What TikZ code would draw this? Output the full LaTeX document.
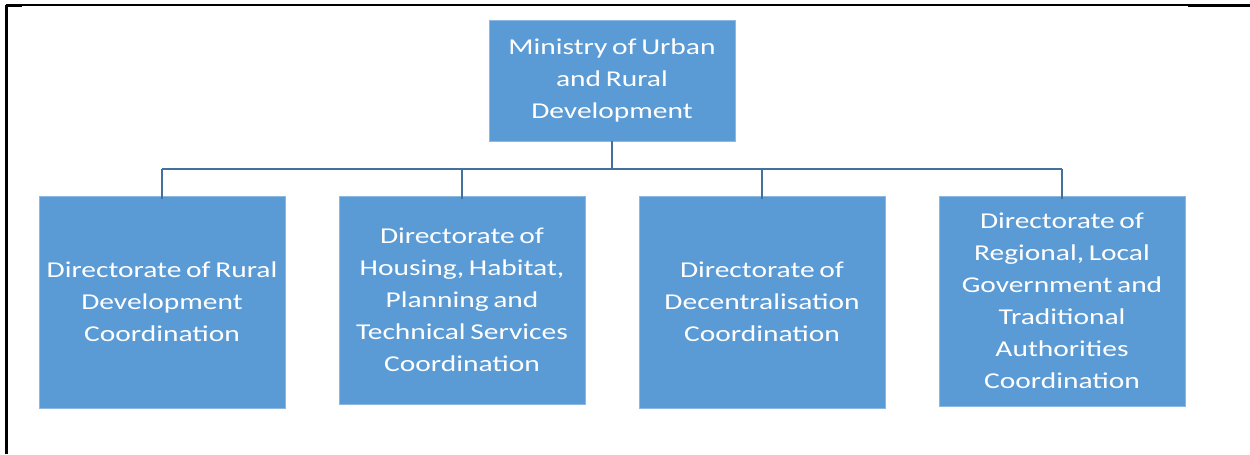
\documentclass[tikz,border=0pt]{standalone}
\usepackage{fontspec}
\setmainfont{Carlito}[FakeStretch=1.3,WordSpace=0.7]
\definecolor{boxblue}{HTML}{5B9BD5}
\definecolor{lineblue}{HTML}{41719C}
\begin{document}
\begin{tikzpicture}[x=0.75pt,y=-0.75pt,
  orgbox/.style={draw=boxblue!70!white,line width=0.5pt,fill=boxblue,text=white,align=center,
    minimum width=246*0.75pt,inner sep=2pt,font=\fontsize{17}{24}\selectfont},
  conn/.style={draw=lineblue,line width=1.3pt}]
\useasboundingbox (0,0) rectangle (1250,454);
\draw[line width=0.9pt] (6,5) -- (1188,5);
\draw[line width=2.2pt] (1188,5.8) -- (1250,5.8);
\draw[line width=2pt] (6.5,4.5) -- (6.5,454);
\draw[line width=2.2pt] (5.5,5.8) -- (22,5.8);
\node[orgbox,minimum height=121*0.75pt] (top) at (612,80.5) {Ministry of Urban\\and Rural\\Development};
\node[orgbox,minimum height=212*0.75pt] (d1) at (162,302) {Directorate of Rural\\Development\\Coordination};
\node[orgbox,minimum height=208*0.75pt] (d2) at (462,300) {Directorate of\\Housing, Habitat,\\Planning and\\Technical Services\\Coordination};
\node[orgbox,minimum height=212*0.75pt] (d3) at (762,302) {Directorate of\\Decentralisation\\Coordination};
\node[orgbox,minimum height=210*0.75pt] (d4) at (1062,301) {Directorate of\\Regional, Local\\Government and\\Traditional\\Authorities\\Coordination};
\coordinate (bar) at (612,169);
\draw[conn] (top.south) -- (bar);
\draw[conn] (d1.north |- bar) -- (d4.north |- bar);
\foreach \n in {d1,d2,d3,d4}{\draw[conn] (\n.north |- bar) -- ([yshift=-3*0.75pt]\n.north);}
\end{tikzpicture}
\end{document}
